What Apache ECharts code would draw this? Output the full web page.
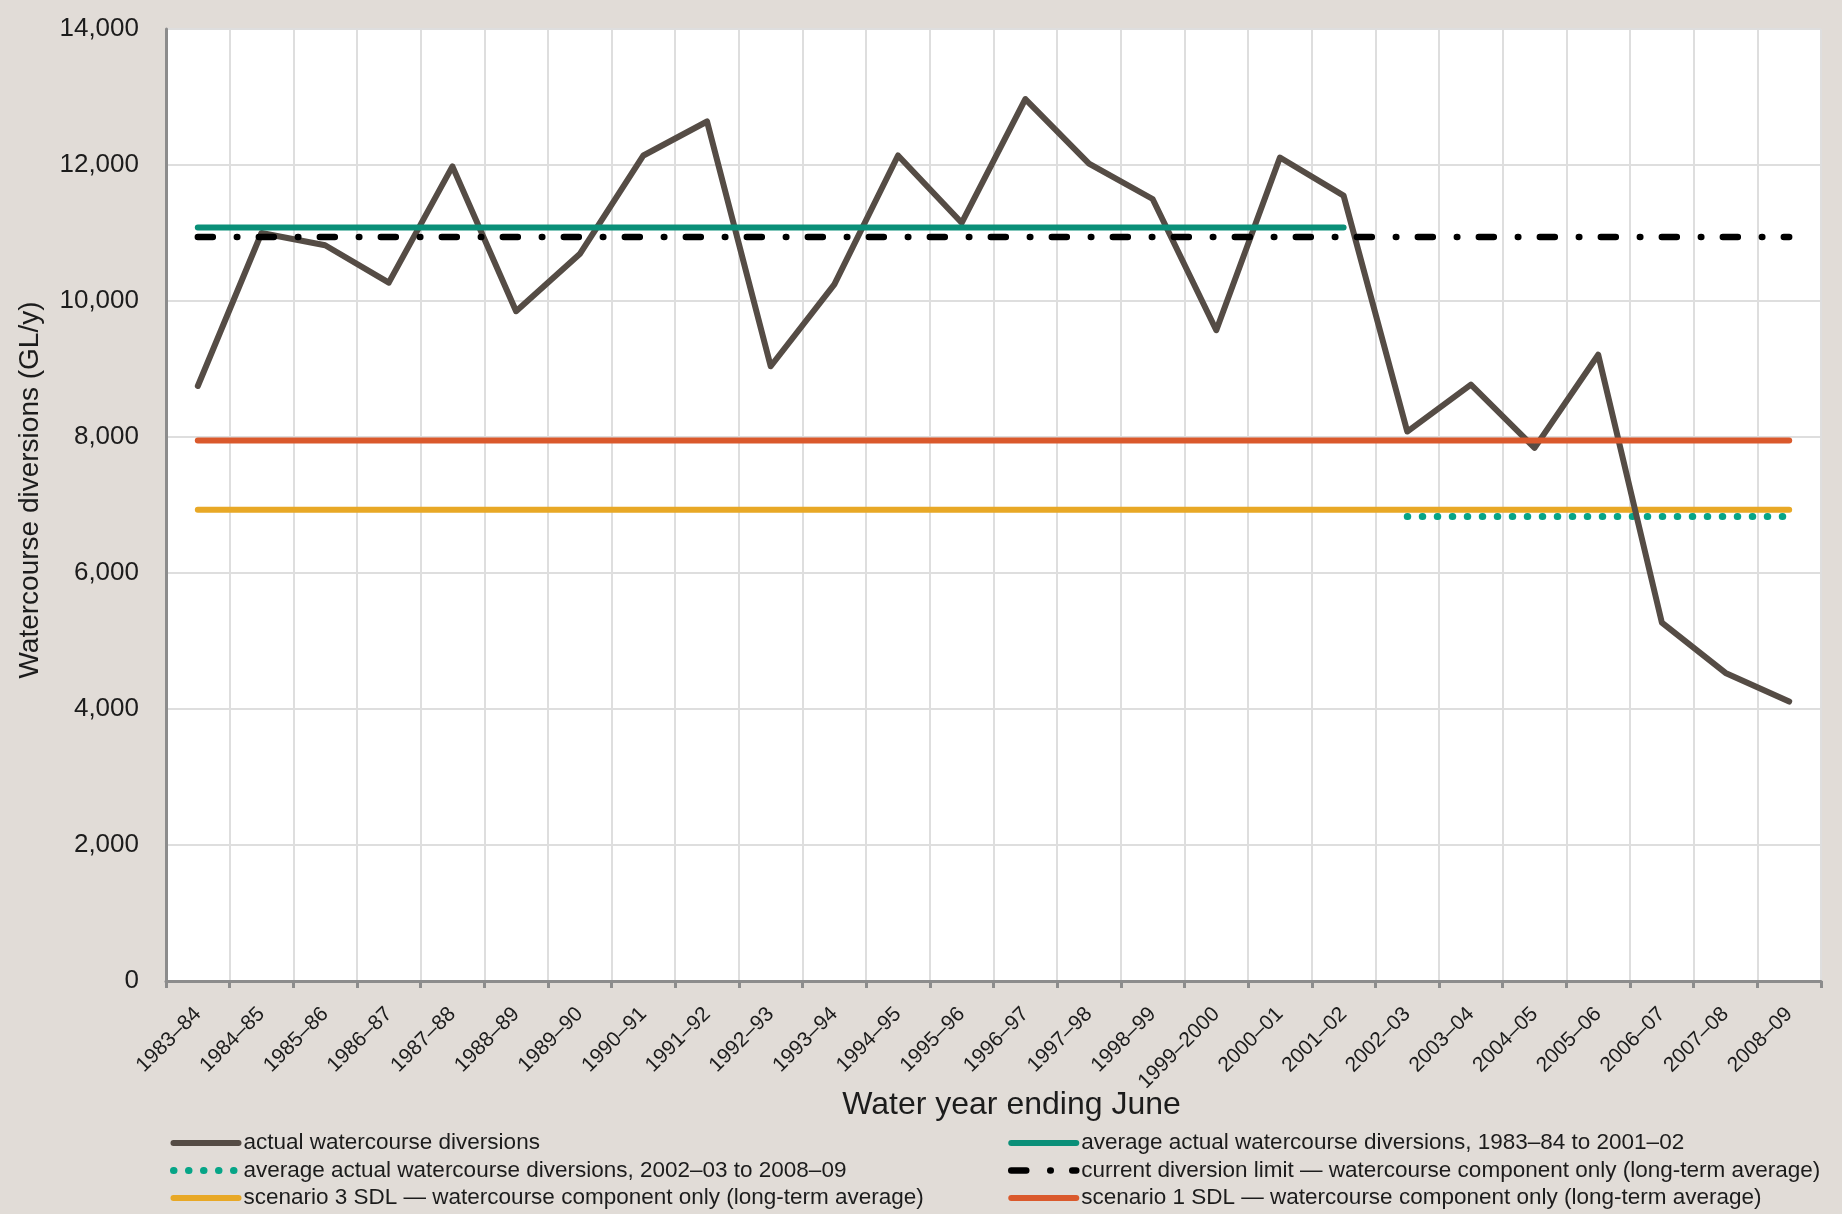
<!DOCTYPE html>
<html>
<head>
<meta charset="utf-8">
<script src="https://cdn.jsdelivr.net/npm/echarts@6/dist/echarts.min.js"></script>
<style>
  html, body { margin: 0; padding: 0; background: #e1dcd7; }
  #chart { width: 1842px; height: 1214px; }
</style>
</head>
<body>
<div id="chart"></div>
<script>
// Water years (ending June)
const years = [
  '1983–84', '1984–85', '1985–86', '1986–87', '1987–88', '1988–89', '1989–90',
  '1990–91', '1991–92', '1992–93', '1993–94', '1994–95', '1995–96', '1996–97',
  '1997–98', '1998–99', '1999–2000', '2000–01', '2001–02', '2002–03', '2003–04',
  '2004–05', '2005–06', '2006–07', '2007–08', '2008–09'
];

// Actual watercourse diversions (GL/y)
const actualDiversions = [
  8750, 11000, 10820, 10270, 11980, 9850, 10690,
  12140, 12640, 9040, 10245, 12140, 11150, 12970,
  12020, 11500, 9570, 12110, 11550, 8080, 8770,
  7840, 9210, 5270, 4530, 4110
];

// Reference levels (GL/y) and the years each one spans
const avgEarlyLevel = 11080;
const avgEarlySpan = ['1983–84', '2001–02'];
const avgLateLevel = 6830;
const avgLateSpan = ['2002–03', '2008–09'];
const limitLevel = 10940;
const limitSpan = ['1983–84', '2008–09'];
const sdl3Level = 6930;
const sdl3Span = ['1983–84', '2008–09'];
const sdl1Level = 7950;
const sdl1Span = ['1983–84', '2008–09'];

// Y axis tick labels
const yTickLabels = ['0', '2,000', '4,000', '6,000', '8,000', '10,000', '12,000', '14,000'];
const yStep = 2000;

const names = {
  actual: 'actual watercourse diversions',
  avgEarly: 'average actual watercourse diversions, 1983–84 to 2001–02',
  avgLate: 'average actual watercourse diversions, 2002–03 to 2008–09',
  limit: 'current diversion limit — watercourse component only (long-term average)',
  sdl3: 'scenario 3 SDL — watercourse component only (long-term average)',
  sdl1: 'scenario 1 SDL — watercourse component only (long-term average)'
};

const styles = {
  actual: { color: '#554c45', width: 6, cap: 'round', join: 'round' },
  avgEarly: { color: '#0a8f78', width: 6, cap: 'round' },
  avgLate: { color: '#06a587', width: 7, cap: 'round', type: [0.5, 14.5] },
  limit: { color: '#000000', width: 6.5, cap: 'round', type: [15, 24, 0.5, 21.5] },
  sdl3: { color: '#e8a826', width: 6, cap: 'round' },
  sdl1: { color: '#da592c', width: 6, cap: 'round' }
};

function level(span, value) {
  return [[span[0], value], [span[1], value]];
}

const font = "'Liberation Sans', Arial, sans-serif";
const axisGrey = '#8c8c8c';
const gridGrey = '#dedede';
const textDark = '#1c1c1c';

function legendItem(key) {
  return { name: names[key], lineStyle: Object.assign({}, styles[key]) };
}

const legendCommon = {
  orient: 'vertical',
  top: 1131,
  height: 80,
  padding: 0,
  itemWidth: 65,
  itemHeight: 14,
  itemGap: 3.5,
  textStyle: { fontFamily: font, fontSize: 22.5, color: textDark, lineHeight: 24 },
  itemStyle: { color: 'transparent', borderColor: 'transparent', borderWidth: 0, opacity: 0 },
  selectedMode: false
};

function line(key, data, z) {
  return {
    name: names[key], type: 'line', symbol: 'none', z: z,
    data: data,
    lineStyle: styles[key],
    itemStyle: { color: styles[key].color }
  };
}

const chart = echarts.init(document.getElementById('chart'), null, { renderer: 'canvas' });

chart.setOption({
  animation: false,
  backgroundColor: '#e1dcd7',
  textStyle: { fontFamily: font },
  grid: {
    left: 166, right: 21, top: 29, bottom: 233,
    containLabel: false,
    outerBoundsMode: 'none',
    show: true, backgroundColor: '#ffffff', borderWidth: 0
  },
  legend: [
    Object.assign({}, legendCommon, {
      left: 170,
      data: [legendItem('actual'), legendItem('avgLate'), legendItem('sdl3')]
    }),
    Object.assign({}, legendCommon, {
      left: 1008,
      data: [legendItem('avgEarly'), legendItem('limit'), legendItem('sdl1')]
    })
  ],
  xAxis: {
    type: 'category',
    data: years,
    boundaryGap: true,
    name: 'Water year ending June',
    nameLocation: 'middle',
    nameGap: 108,
    nameMoveOverlap: false,
    nameTextStyle: { fontFamily: font, fontSize: 32, color: textDark, padding: [0, 0, 0, 36] },
    axisLine: { show: true, lineStyle: { color: axisGrey, width: 3 } },
    axisTick: { show: true, length: 7, lineStyle: { color: axisGrey, width: 3 } },
    splitLine: { show: true, lineStyle: { color: gridGrey, width: 2 } },
    axisLabel: {
      interval: 0, rotate: 45, margin: 30,
      fontFamily: font, fontSize: 21, color: textDark
    }
  },
  yAxis: {
    type: 'value',
    min: 0, max: 14000, interval: yStep,
    name: 'Watercourse diversions (GL/y)',
    nameLocation: 'middle',
    nameGap: 122,
    nameMoveOverlap: false,
    nameRotate: 90,
    nameTextStyle: { fontFamily: font, fontSize: 28, color: textDark, padding: [0, 0, 0, 30] },
    axisLine: { show: true, lineStyle: { color: axisGrey, width: 3 } },
    axisTick: { show: false },
    splitLine: { show: true, lineStyle: { color: gridGrey, width: 2 } },
    axisLabel: {
      margin: 27, fontFamily: font, fontSize: 26, color: textDark,
      formatter: (v) => yTickLabels[Math.round(v / yStep)]
    }
  },
  series: [
    line('sdl3', level(sdl3Span, sdl3Level), 2),
    line('avgLate', level(avgLateSpan, avgLateLevel), 2),
    line('actual', actualDiversions, 3),
    line('avgEarly', level(avgEarlySpan, avgEarlyLevel), 4),
    line('limit', level(limitSpan, limitLevel), 4),
    line('sdl1', level(sdl1Span, sdl1Level), 4)
  ]
});
</script>
</body>
</html>
